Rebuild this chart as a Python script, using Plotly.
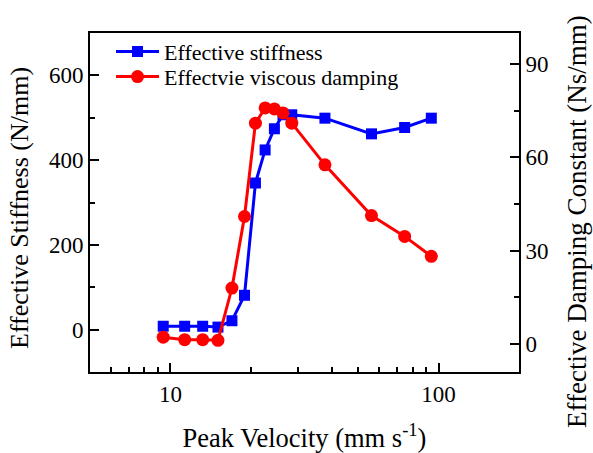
import plotly.graph_objects as go

velocity = [9.40, 11.30, 13.19, 15.04, 16.96, 18.89, 20.75, 22.55, 24.42, 26.29, 28.35, 37.69, 56.21, 74.73, 93.96]
stiffness = [8, 8, 8, 6, 21, 81, 346, 424, 474, 507, 507, 499, 462, 477, 499]
damping = [2.2, 1.4, 1.4, 1.2, 18, 41, 71, 75.9, 75.6, 74.3, 71, 57.6, 41.3, 34.6, 28.2]

x_major = [10, 100]
x_minor = [6, 7, 8, 9, 20, 30, 40, 50, 60, 70, 80, 90]
y1_major = [0, 200, 400, 600]
y1_minor = [100, 300, 500]
y2_major = [0, 30, 60, 90]
y2_minor = [15, 45, 75]

FONT = "Times New Roman, Liberation Serif, serif"

fig = go.Figure()
fig.add_trace(go.Scatter(
    x=velocity, y=stiffness, name="Effective stiffness",
    mode="lines+markers", legend="legend",
    line=dict(color="#0000ff", width=3),
    marker=dict(symbol="square", size=11, color="#0000ff"),
))
fig.add_trace(go.Scatter(
    x=velocity, y=damping, name="Effectvie viscous damping",
    mode="lines+markers", yaxis="y2", legend="legend2",
    line=dict(color="#ff0000", width=3),
    marker=dict(symbol="circle", size=13, color="#ff0000"),
))

leg_common = dict(xanchor="left", yanchor="middle", bgcolor="rgba(0,0,0,0)",
                  font=dict(family=FONT, size=22), itemwidth=43)

axis_common = dict(showline=True, linecolor="black", linewidth=2,
                   showgrid=False, zeroline=False, tickmode="array",
                   ticks="inside", ticklen=9, tickwidth=2, tickcolor="black",
                   tickfont=dict(family=FONT, size=23), automargin=False)

def minor(vals):
    return dict(tickmode="array", tickvals=vals, ticks="inside", ticklen=5,
                tickwidth=2, tickcolor="black", showgrid=False)

fig.update_layout(
    width=593, height=453,
    margin=dict(l=90, r=74, t=33, b=81),
    paper_bgcolor="white", plot_bgcolor="white",
    font=dict(family=FONT, size=22, color="black"),
    showlegend=True,
    legend=dict(x=0.049, y=0.945, **leg_common),
    legend2=dict(x=0.049, y=0.871, **leg_common),
    xaxis=dict(
        type="log", range=[0.7, 2.3], mirror=True,
        tickvals=x_major, ticktext=[str(v) for v in x_major],
        minor=minor(x_minor),
        title=dict(text="Peak Velocity (mm s<sup>-1</sup>)", font=dict(family=FONT, size=26.5), standoff=24),
        **axis_common,
    ),
    yaxis=dict(
        range=[-100, 700],
        tickvals=y1_major, ticktext=[str(v) for v in y1_major],
        minor=minor(y1_minor),
        **axis_common,
    ),
    yaxis2=dict(
        range=[-9, 100], overlaying="y", side="right",
        tickvals=y2_major, ticktext=[str(v) for v in y2_major],
        minor=minor(y2_minor),
        **axis_common,
    ),
    annotations=[
        dict(text="Effective Stiffness (N/mm)", textangle=-90, showarrow=False,
             xref="paper", yref="paper", x=-0.1632, y=0.4838,
             xanchor="center", yanchor="middle", font=dict(family=FONT, size=26)),
        dict(text="Effective Damping Constant (Ns/mm)", textangle=-90, showarrow=False,
             xref="paper", yref="paper", x=1.1352, y=0.4425,
             xanchor="center", yanchor="middle", font=dict(family=FONT, size=27)),
    ],
)

fig.write_html("out.html")
